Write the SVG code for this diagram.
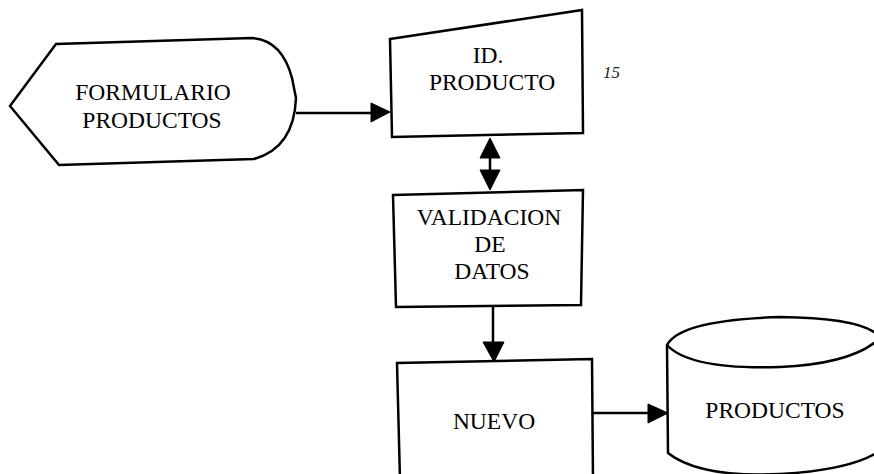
<svg xmlns="http://www.w3.org/2000/svg" width="874" height="474" viewBox="0 0 874 474">
<style>
.shape{fill:#fff;stroke:#000;stroke-width:2.5;stroke-linejoin:miter}
.lbl{font-size:23.5px;fill:#000;text-anchor:middle}
.conn{stroke:#000;stroke-width:2.5;fill:none}
.head{fill:#000;stroke:#000;stroke-width:1}
</style>
<rect width="874" height="474" fill="#fff"/>
<g font-family="Liberation Serif, Times New Roman, DejaVu Serif, serif">
<g id="formulario">
<path class="shape" d="M10,106 L56,44 L252,38 Q282,40 292,78 L296,98 Q294,148 254,159 L59,165 Z"/>
<text class="lbl" x="153" y="100">FORMULARIO</text>
<text class="lbl" x="152" y="128">PRODUCTOS</text>
</g>
<g id="id-producto">
<path class="shape" d="M390,39 L582,10 L583,133 L392,137 Z"/>
<text class="lbl" x="488" y="63" font-size="22.5">ID.</text>
<text class="lbl" x="492" y="90" font-size="22.5">PRODUCTO</text>
</g>
<g id="validacion">
<path class="shape" d="M393,195 L583,190 L581,305 L396,307 Z"/>
<text class="lbl" x="489" y="225">VALIDACION</text>
<text class="lbl" x="490" y="252">DE</text>
<text class="lbl" x="492" y="279">DATOS</text>
</g>
<g id="nuevo">
<path class="shape" d="M400,480 L397,363 L592,359 L593,480"/>
<text class="lbl" x="494" y="429">NUEVO</text>
</g>
<g id="productos-db">
<path class="shape" d="M667,345 L668,453 Q700,478 780,474 Q850,470 878,452 L878,335 Q860,318 780,317 Q680,320 667,345 Z"/>
<path class="conn" d="M667,345 Q690,370 780,367 Q850,364 878,340"/>
<text class="lbl" x="775" y="418" font-size="24">PRODUCTOS</text>
</g>
<g id="note">
<text x="603" y="78" font-style="italic" font-size="17" fill="#222">15</text>
</g>
</g>
<g id="connectors">
<line class="conn" x1="296" y1="113" x2="374" y2="113"/>
<polygon class="head" points="371,103 390,112 371,122"/>
<line class="conn" x1="490" y1="152" x2="490" y2="176"/>
<polygon class="head" points="490,138 480,158 500,158"/>
<polygon class="head" points="480,170 500,170 490,190"/>
<line class="conn" x1="493" y1="307" x2="493" y2="346"/>
<polygon class="head" points="483,342 504,342 494,362"/>
<line class="conn" x1="593" y1="413" x2="652" y2="413"/>
<polygon class="head" points="648,404 668,413 648,423"/>
</g>
</svg>
